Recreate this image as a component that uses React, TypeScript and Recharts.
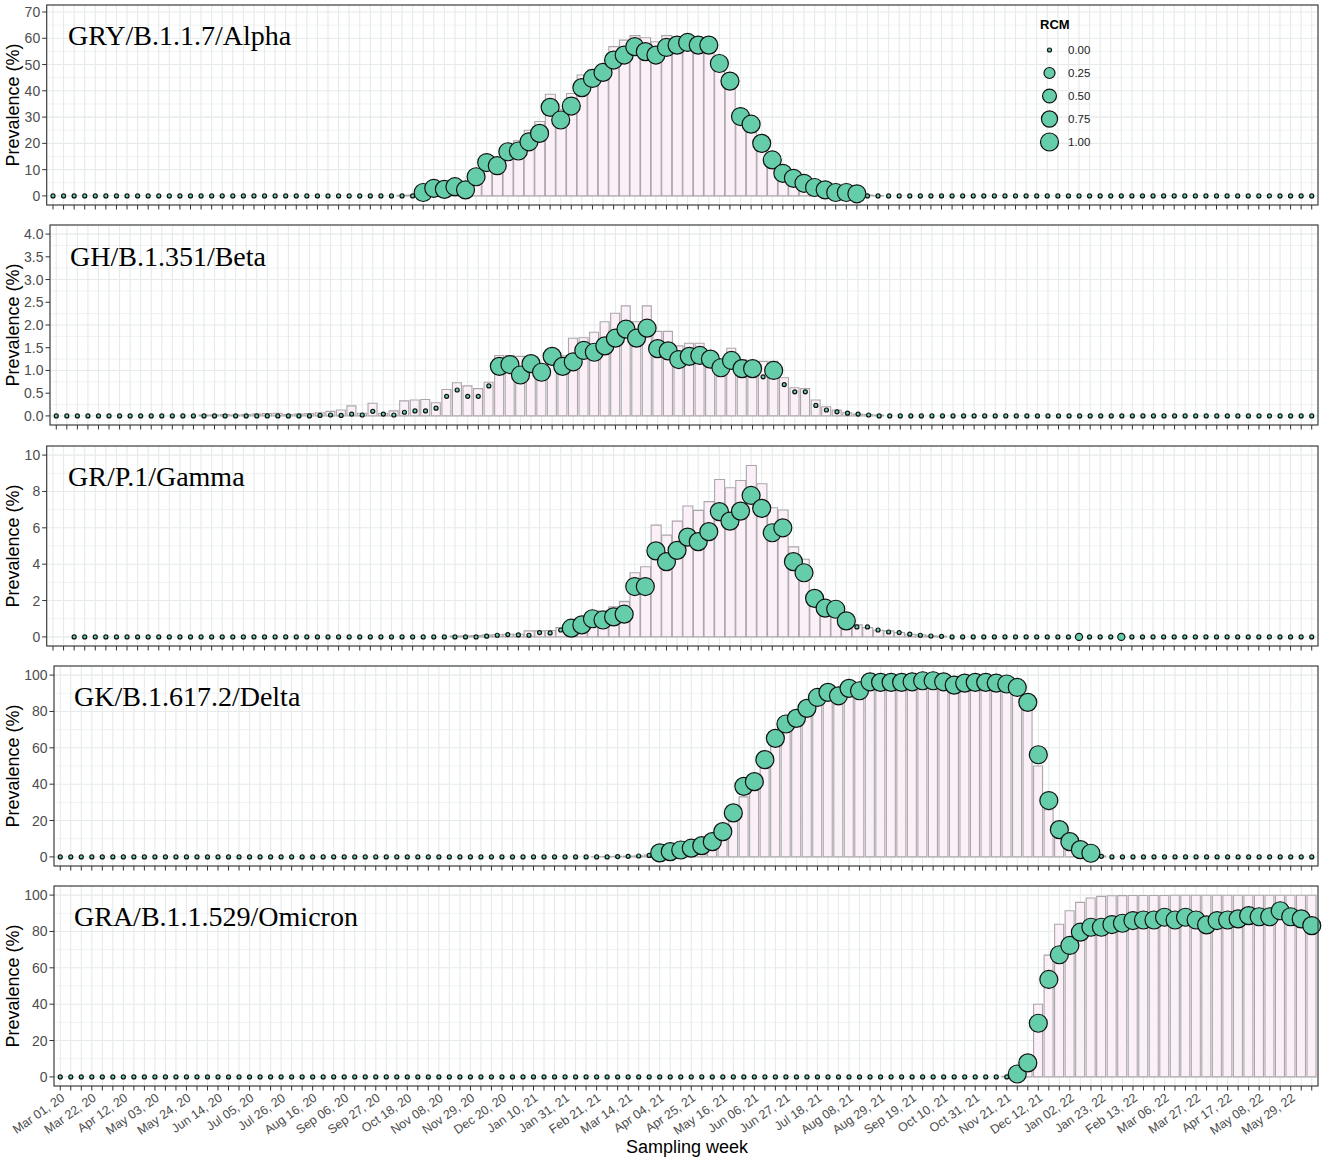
import React from 'react';
import { ComposedChart, Bar, Line, XAxis, YAxis, CartesianGrid } from 'recharts';

// weekly categories, one label every third week
const TICK_LABELS = [
  'Mar 01, 20', 'Mar 22, 20', 'Apr 12, 20', 'May 03, 20', 'May 24, 20', 'Jun 14, 20', 'Jul 05, 20', 'Jul 26, 20',
  'Aug 16, 20', 'Sep 06, 20', 'Sep 27, 20', 'Oct 18, 20', 'Nov 08, 20', 'Nov 29, 20', 'Dec 20, 20', 'Jan 10, 21',
  'Jan 31, 21', 'Feb 21, 21', 'Mar 14, 21', 'Apr 04, 21', 'Apr 25, 21', 'May 16, 21', 'Jun 06, 21', 'Jun 27, 21',
  'Jul 18, 21', 'Aug 08, 21', 'Aug 29, 21', 'Sep 19, 21', 'Oct 10, 21', 'Oct 31, 21', 'Nov 21, 21', 'Dec 12, 21',
  'Jan 02, 22', 'Jan 23, 22', 'Feb 13, 22', 'Mar 06, 22', 'Mar 27, 22', 'Apr 17, 22', 'May 08, 22', 'May 29, 22',
];
const N_WEEKS = 120;
const START = Date.UTC(2020, 2, 1);
const WEEKS = Array.from({ length: N_WEEKS }, (_, i) => new Date(START + i * 7 * 864e5).toISOString().slice(0, 10));

// ---- Alpha ----
const ALPHA_BAR = [
  0, 0, 0, 0, 0, 0, 0, 0, 0, 0,
  0, 0, 0, 0, 0, 0, 0, 0, 0, 0,
  0, 0, 0, 0, 0, 0, 0, 0, 0, 0,
  0, 0, 0, 0.2, 0.3, 1.5, 3.0, 3.0, 4.0, 4.5,
  8.5, 13.5, 14.0, 17.5, 21.0, 25.0, 28.3, 38.7, 33.0, 39.0,
  46.0, 47.9, 49.8, 56.8, 59.3, 61.0, 60.2, 58.7, 61.0, 60.6,
  60.2, 59.3, 58.0, 51.0, 41.0, 31.0, 28.0, 21.0, 14.5, 9.5,
  7.0, 5.0, 3.5, 2.5, 1.6, 1.4, 0.9, 0.3, 0.1, 0,
  0, 0, 0, 0, 0, 0, 0, 0, 0, 0,
  0, 0, 0, 0, 0, 0, 0, 0, 0, 0,
  0, 0, 0, 0, 0, 0, 0, 0, 0, 0,
  0, 0, 0, 0, 0, 0, 0, 0, 0, 0,
];
const ALPHA_PTS = [
  0, 0, 0, 0, 0, 0, 0, 0, 0, 0,
  0, 0, 0, 0, 0, 0, 0, 0, 0, 0,
  0, 0, 0, 0, 0, 0, 0, 0, 0, 0,
  0, 0, 0, 0, 0, 1.3, 2.9, 2.5, 3.5, 2.3,
  7.3, 12.7, 11.5, 16.8, 17.1, 20.6, 23.8, 33.7, 28.9, 34.2,
  41.2, 44.7, 47.0, 51.7, 53.6, 56.8, 54.9, 53.6, 56.5, 57.4,
  58.4, 57.4, 57.4, 50.4, 43.7, 30.2, 27.3, 20.0, 13.7, 8.6,
  6.7, 4.8, 3.2, 2.3, 1.3, 1.3, 0.8, 0, 0, 0,
  0, 0, 0, 0, 0, 0, 0, 0, 0, 0,
  0, 0, 0, 0, 0, 0, 0, 0, 0, 0,
  0, 0, 0, 0, 0, 0, 0, 0, 0, 0,
  0, 0, 0, 0, 0, 0, 0, 0, 0, 0,
];
const ALPHA_RCM = [
  0, 0, 0, 0, 0, 0, 0, 0, 0, 0,
  0, 0, 0, 0, 0, 0, 0, 0, 0, 0,
  0, 0, 0, 0, 0, 0, 0, 0, 0, 0,
  0, 0, 0, 0, 0, 1, 1, 1, 1, 1,
  1, 1, 1, 1, 1, 1, 1, 1, 1, 1,
  1, 1, 1, 1, 1, 1, 1, 1, 1, 1,
  1, 1, 1, 1, 1, 1, 1, 1, 1, 1,
  1, 1, 1, 1, 1, 1, 1, 0, 0, 0,
  0, 0, 0, 0, 0, 0, 0, 0, 0, 0,
  0, 0, 0, 0, 0, 0, 0, 0, 0, 0,
  0, 0, 0, 0, 0, 0, 0, 0, 0, 0,
  0, 0, 0, 0, 0, 0, 0, 0, 0, 0,
];

// ---- Beta ----
const BETA_BAR = [
  0, 0, 0, 0, 0, 0, 0, 0, 0, 0,
  0, 0, 0, 0, 0.02, 0.02, 0.03, 0.02, 0.03, 0.04,
  0.05, 0.06, 0.03, 0.04, 0.05, 0.07, 0.10, 0.13, 0.22, 0.06,
  0.28, 0.06, 0.11, 0.33, 0.35, 0.36, 0.29, 0.58, 0.73, 0.66,
  0.60, 0.74, 1.33, 1.33, 1.31, 1.24, 1.10, 1.30, 1.32, 1.71,
  1.72, 1.84, 2.07, 2.26, 2.42, 2.07, 2.42, 1.86, 1.86, 1.54,
  1.60, 1.60, 1.42, 1.24, 1.49, 1.24, 1.20, 1.20, 1.20, 0.84,
  0.62, 0.60, 0.35, 0.20, 0.13, 0.07, 0.04, 0.03, 0.02, 0,
  0, 0, 0, 0, 0, 0, 0, 0, 0, 0,
  0, 0, 0, 0, 0, 0, 0, 0, 0, 0,
  0, 0, 0, 0, 0, 0, 0, 0, 0, 0,
  0, 0, 0, 0, 0, 0, 0, 0, 0, 0,
];
const BETA_PTS = [
  0, 0, 0, 0, 0, 0, 0, 0, 0, 0,
  0, 0, 0, 0, 0, 0, 0, 0, 0, 0,
  0, 0, 0, 0, 0, 0.01, 0.02, 0.01, 0.04, 0.02,
  0.10, 0.04, 0.02, 0.08, 0.11, 0.11, 0.17, 0.43, 0.57, 0.43,
  0.43, 0.66, 1.09, 1.13, 0.90, 1.15, 0.96, 1.31, 1.09, 1.19,
  1.44, 1.40, 1.54, 1.71, 1.91, 1.71, 1.93, 1.48, 1.43, 1.24,
  1.31, 1.33, 1.25, 1.06, 1.22, 1.04, 1.04, 0.86, 1.00, 0.69,
  0.53, 0.53, 0.23, 0.13, 0.09, 0.06, 0.04, 0.02, 0, 0,
  0, 0, 0, 0, 0, 0, 0, 0, 0, 0,
  0, 0, 0, 0, 0, 0, 0, 0, 0, 0,
  0, 0, 0, 0, 0, 0, 0, 0, 0, 0,
  0, 0, 0, 0, 0, 0, 0, 0, 0, 0,
];
const BETA_RCM = [
  0, 0, 0, 0, 0, 0, 0, 0, 0, 0,
  0, 0, 0, 0, 0, 0, 0, 0, 0, 0,
  0, 0, 0, 0, 0, 0, 0, 0, 0, 0,
  0, 0, 0, 0, 0, 0, 0, 0, 0, 0,
  0, 0, 1, 1, 1, 1, 1, 1, 1, 1,
  1, 1, 1, 1, 1, 1, 1, 1, 1, 1,
  1, 1, 1, 1, 1, 1, 1, 0, 1, 0,
  0, 0, 0, 0, 0, 0, 0, 0, 0, 0,
  0, 0, 0, 0, 0, 0, 0, 0, 0, 0,
  0, 0, 0, 0, 0, 0, 0, 0, 0, 0,
  0, 0, 0, 0, 0, 0, 0, 0, 0, 0,
  0, 0, 0, 0, 0, 0, 0, 0, 0, 0,
];

// ---- Gamma (first two weeks have no data) ----
const GAMMA_BAR = [
  null, null, 0, 0, 0, 0, 0, 0, 0, 0,
  0, 0, 0, 0, 0, 0, 0, 0, 0, 0,
  0, 0, 0, 0, 0, 0, 0, 0, 0, 0,
  0, 0, 0, 0, 0, 0, 0, 0, 0.05, 0.05,
  0.08, 0.10, 0.12, 0.15, 0.15, 0.33, 0.33, 0.35, 0.51, 0.55,
  0.79, 1.06, 1.43, 1.65, 1.94, 3.53, 3.86, 6.15, 5.60, 6.37,
  7.20, 6.96, 7.44, 8.66, 8.20, 8.60, 9.43, 8.42, 7.10, 6.98,
  4.95, 4.27, 2.53, 1.89, 1.43, 0.79, 0.66, 0.51, 0.37, 0.33,
  0.24, 0.15, 0.11, 0.06, 0.04, 0, 0, 0, 0, 0,
  0, 0, 0, 0, 0, 0, 0, 0, 0, 0,
  0, 0, 0, 0, 0, 0, 0, 0, 0, 0,
  0, 0, 0, 0, 0, 0, 0, 0, 0, 0,
];
const GAMMA_PTS = [
  null, null, 0, 0, 0, 0, 0, 0, 0, 0,
  0, 0, 0, 0, 0, 0, 0, 0, 0, 0,
  0, 0, 0, 0, 0, 0, 0, 0, 0, 0,
  0, 0, 0, 0, 0, 0, 0, 0, 0, 0,
  0, 0.04, 0.09, 0.13, 0.11, 0.09, 0.24, 0.22, 0.38, 0.48,
  0.66, 1.00, 0.93, 1.10, 1.25, 2.77, 2.77, 4.73, 4.14, 4.76,
  5.49, 5.24, 5.79, 6.89, 6.37, 6.92, 7.78, 7.07, 5.73, 6.00,
  4.14, 3.53, 2.12, 1.58, 1.52, 0.88, 0.55, 0.55, 0.38, 0.27,
  0.24, 0.15, 0.09, 0.05, 0.03, 0, 0, 0, 0, 0,
  0, 0, 0, 0, 0, 0, 0, 0, 0, 0,
  0, 0, 0, 0, 0, 0, 0, 0, 0, 0,
  0, 0, 0, 0, 0, 0, 0, 0, 0, 0,
];
const GAMMA_RCM = [
  0, 0, 0, 0, 0, 0, 0, 0, 0, 0,
  0, 0, 0, 0, 0, 0, 0, 0, 0, 0,
  0, 0, 0, 0, 0, 0, 0, 0, 0, 0,
  0, 0, 0, 0, 0, 0, 0, 0, 0, 0,
  0, 0, 0, 0, 0, 0, 0, 0, 0, 1,
  1, 1, 1, 1, 1, 1, 1, 1, 1, 1,
  1, 1, 1, 1, 1, 1, 1, 1, 1, 1,
  1, 1, 1, 1, 1, 1, 0, 0, 0, 0,
  0, 0, 0, 0, 0, 0, 0, 0, 0, 0,
  0, 0, 0, 0, 0, 0, 0, 0.05, 0, 0,
  0, 0.05, 0, 0, 0, 0, 0, 0, 0, 0,
  0, 0, 0, 0, 0, 0, 0, 0, 0, 0,
];

// ---- Delta ----
const DELTA_BAR = [
  0, 0, 0, 0, 0, 0, 0, 0, 0, 0,
  0, 0, 0, 0, 0, 0, 0, 0, 0, 0,
  0, 0, 0, 0, 0, 0, 0, 0, 0, 0,
  0, 0, 0, 0, 0, 0, 0, 0, 0, 0,
  0, 0, 0, 0, 0, 0, 0, 0, 0, 0,
  0, 0.1, 0.2, 0.3, 0.4, 0.6, 1.0, 2.5, 3.2, 4.2,
  5.2, 6.8, 9.5, 15.0, 22.0, 33.0, 44.0, 56.0, 68.0, 74.0,
  78.0, 84.0, 88.0, 91.0, 90.0, 93.0, 93.0, 95.5, 96.0, 96.0,
  96.0, 96.0, 96.5, 96.5, 96.0, 95.0, 95.5, 95.5, 95.5, 95.0,
  94.5, 92.5, 86.0, 50.0, 26.0, 12.0, 6.0, 3.0, 1.5, 0.5,
  0, 0, 0, 0, 0, 0, 0, 0, 0, 0,
  0, 0, 0, 0, 0, 0, 0, 0, 0, 0,
];
const DELTA_PTS = [
  0, 0, 0, 0, 0, 0, 0, 0, 0, 0,
  0, 0, 0, 0, 0, 0, 0, 0, 0, 0,
  0, 0, 0, 0, 0, 0, 0, 0, 0, 0,
  0, 0, 0, 0, 0, 0, 0, 0, 0, 0,
  0, 0, 0, 0, 0, 0, 0, 0, 0, 0,
  0, 0, 0, 0.2, 0.3, 0.5, 0.8, 2.2, 2.9, 3.8,
  4.8, 6.2, 8.4, 13.9, 24.2, 38.8, 41.4, 53.5, 65.2, 73.1,
  76.2, 81.7, 87.7, 90.5, 88.6, 92.7, 91.4, 96.3, 96.0, 96.0,
  96.0, 96.3, 96.9, 96.9, 96.3, 94.5, 95.6, 96.0, 96.0, 95.6,
  95.1, 93.2, 85.0, 56.2, 31.0, 15.0, 8.4, 4.0, 2.0, 0.3,
  0, 0, 0, 0, 0, 0, 0, 0, 0, 0,
  0, 0, 0, 0, 0, 0, 0, 0, 0, 0,
];
const DELTA_RCM = [
  0, 0, 0, 0, 0, 0, 0, 0, 0, 0,
  0, 0, 0, 0, 0, 0, 0, 0, 0, 0,
  0, 0, 0, 0, 0, 0, 0, 0, 0, 0,
  0, 0, 0, 0, 0, 0, 0, 0, 0, 0,
  0, 0, 0, 0, 0, 0, 0, 0, 0, 0,
  0, 0, 0, 0, 0, 0, 0, 1, 1, 1,
  1, 1, 1, 1, 1, 1, 1, 1, 1, 1,
  1, 1, 1, 1, 1, 1, 1, 1, 1, 1,
  1, 1, 1, 1, 1, 1, 1, 1, 1, 1,
  1, 1, 1, 1, 1, 1, 1, 1, 1, 0,
  0, 0, 0, 0, 0, 0, 0, 0, 0, 0,
  0, 0, 0, 0, 0, 0, 0, 0, 0, 0,
];

// ---- Omicron ----
const OMICRON_BAR = [
  0, 0, 0, 0, 0, 0, 0, 0, 0, 0,
  0, 0, 0, 0, 0, 0, 0, 0, 0, 0,
  0, 0, 0, 0, 0, 0, 0, 0, 0, 0,
  0, 0, 0, 0, 0, 0, 0, 0, 0, 0,
  0, 0, 0, 0, 0, 0, 0, 0, 0, 0,
  0, 0, 0, 0, 0, 0, 0, 0, 0, 0,
  0, 0, 0, 0, 0, 0, 0, 0, 0, 0,
  0, 0, 0, 0, 0, 0, 0, 0, 0, 0,
  0, 0, 0, 0, 0, 0, 0, 0, 0, 0,
  0.3, 2.5, 9.0, 40.0, 67.0, 84.0, 91.4, 96.0, 98.4, 99.3,
  99.6, 99.7, 99.8, 99.8, 99.8, 99.8, 99.9, 99.9, 99.9, 99.9,
  99.9, 99.9, 99.9, 99.9, 99.9, 99.9, 99.9, 99.9, 99.9, 99.9,
];
const OMICRON_PTS = [
  0, 0, 0, 0, 0, 0, 0, 0, 0, 0,
  0, 0, 0, 0, 0, 0, 0, 0, 0, 0,
  0, 0, 0, 0, 0, 0, 0, 0, 0, 0,
  0, 0, 0, 0, 0, 0, 0, 0, 0, 0,
  0, 0, 0, 0, 0, 0, 0, 0, 0, 0,
  0, 0, 0, 0, 0, 0, 0, 0, 0, 0,
  0, 0, 0, 0, 0, 0, 0, 0, 0, 0,
  0, 0, 0, 0, 0, 0, 0, 0, 0, 0,
  0, 0, 0, 0, 0, 0, 0, 0, 0, 0,
  0, 1.6, 7.7, 29.5, 53.6, 67.2, 72.3, 79.6, 82.3, 82.3,
  83.8, 84.5, 86.0, 86.3, 86.3, 87.8, 86.3, 87.8, 86.3, 83.6,
  86.0, 86.3, 86.9, 88.7, 88.1, 88.1, 91.4, 88.1, 86.9, 83.2,
];
const OMICRON_RCM = [
  0, 0, 0, 0, 0, 0, 0, 0, 0, 0,
  0, 0, 0, 0, 0, 0, 0, 0, 0, 0,
  0, 0, 0, 0, 0, 0, 0, 0, 0, 0,
  0, 0, 0, 0, 0, 0, 0, 0, 0, 0,
  0, 0, 0, 0, 0, 0, 0, 0, 0, 0,
  0, 0, 0, 0, 0, 0, 0, 0, 0, 0,
  0, 0, 0, 0, 0, 0, 0, 0, 0, 0,
  0, 0, 0, 0, 0, 0, 0, 0, 0, 0,
  0, 0, 0, 0, 0, 0, 0, 0, 0, 0,
  0, 1, 1, 1, 1, 1, 1, 1, 1, 1,
  1, 1, 1, 1, 1, 1, 1, 1, 1, 1,
  1, 1, 1, 1, 1, 1, 1, 1, 1, 1,
];

const ALPHA_TICKS = [0, 10, 20, 30, 40, 50, 60, 70];
const BETA_TICKS = [0, 0.5, 1, 1.5, 2, 2.5, 3, 3.5, 4];
const GAMMA_TICKS = [0, 2, 4, 6, 8, 10];
const PCT_TICKS = [0, 20, 40, 60, 80, 100];
const RCM_KEYS = [0, 0.25, 0.5, 0.75, 1];

const W = 1325;
const RIGHT = 1318;
const PANEL_H = 200;
const M_TOP = 5;
const SANS = '"Liberation Sans", Arial, sans-serif';
const SERIF = '"Liberation Serif", "Times New Roman", serif';
const PT_FILL = '#66CDAA';
const BAR_FILL = '#fcf0f8';
const BAR_STROKE = '#aaa6aa';
const GRID = '#e6eaea';

const PANELS = [
  { name: 'GRY/B.1.1.7/Alpha', bars: ALPHA_BAR, pts: ALPHA_PTS, rcm: ALPHA_RCM, ticks: ALPHA_TICKS, domain: [-3.46, 72.66], top: 5, left: 46.7, tx: 68, ty: 45, fmt: (v: number) => String(v) },
  { name: 'GH/B.1.351/Beta', bars: BETA_BAR, pts: BETA_PTS, rcm: BETA_RCM, ticks: BETA_TICKS, domain: [-0.2, 4.2], top: 225, left: 50, tx: 70, ty: 266, fmt: (v: number) => v.toFixed(1) },
  { name: 'GR/P.1/Gamma', bars: GAMMA_BAR, pts: GAMMA_PTS, rcm: GAMMA_RCM, ticks: GAMMA_TICKS, domain: [-0.5, 10.5], top: 446, left: 46.7, tx: 68, ty: 486, fmt: (v: number) => String(v) },
  { name: 'GK/B.1.617.2/Delta', bars: DELTA_BAR, pts: DELTA_PTS, rcm: DELTA_RCM, ticks: PCT_TICKS, domain: [-5, 105], top: 666, left: 54, tx: 74, ty: 706, fmt: (v: number) => String(v) },
  { name: 'GRA/B.1.1.529/Omicron', bars: OMICRON_BAR, pts: OMICRON_PTS, rcm: OMICRON_RCM, ticks: PCT_TICKS, domain: [-5, 105], top: 886, left: 54, tx: 74, ty: 926, fmt: (v: number) => String(v) },
];

// size scale: area-proportional like ggplot's scale_size
const rcmRadius = (v: number) => 2 + 7 * Math.sqrt(Math.max(0, v || 0));

const renderDot = (props: any) => {
  const { cx, cy, payload, index } = props;
  if (cx == null || cy == null || payload == null || payload.pt == null) return <g key={`d-${index}`} />;
  return (
    <circle key={`d-${index}`} cx={cx} cy={cy} r={rcmRadius(payload.rcm)} fill={PT_FILL} stroke="#111" strokeWidth={1.2} />
  );
};

const XTick = (props: any) => {
  const { x, y, payload } = props;
  const i = WEEKS.indexOf(payload.value);
  if (i < 0 || i % 3 !== 0) return <g />;
  return (
    <text x={x} y={y} transform={`rotate(-35 ${x} ${y})`} textAnchor="end" dy="0.72em" fontSize={12.5} fill="#4d4d4d" fontFamily={SANS}>
      {TICK_LABELS[i / 3]}
    </text>
  );
};

const NoTick = () => <g />;

function Panel({ p, bottom }: { p: any; bottom: boolean }) {
  const data = WEEKS.map((w, i) => ({ week: w, bar: p.bars[i], pt: p.pts[i], rcm: p.rcm[i] }));
  const axisH = bottom ? 77 : 10;
  const minors = p.ticks.slice(1).map((t: number, k: number) => (t + p.ticks[k]) / 2);
  const [d0, d1] = p.domain;
  const minorGen = ({ yAxis, offset }: any) =>
    minors.map((v: number) =>
      yAxis && typeof yAxis.scale === 'function' ? yAxis.scale(v) : offset.top + ((d1 - v) / (d1 - d0)) * offset.height
    );
  return (
    <div style={{ position: 'absolute', left: 0, top: p.top - M_TOP }}>
      <ComposedChart
        width={W}
        height={M_TOP + PANEL_H + axisH}
        data={data}
        margin={{ top: M_TOP, right: W - RIGHT, bottom: 0, left: 0 }}
        barCategoryGap="5%"
      >
        <CartesianGrid stroke={GRID} strokeWidth={0.6} vertical={false} horizontalCoordinatesGenerator={minorGen} />
        <CartesianGrid stroke={GRID} strokeWidth={1.1} />
        <XAxis
          dataKey="week"
          interval={0}
          tickSize={4.5}
          tickLine={{ stroke: '#333', strokeWidth: 1 }}
          axisLine={false}
          tick={bottom ? <XTick /> : <NoTick />}
          height={axisH}
          padding={{ left: 1, right: 1 }}
        />
        <YAxis
          type="number"
          domain={p.domain}
          ticks={p.ticks}
          allowDataOverflow
          width={p.left}
          tickSize={4.5}
          tickMargin={2}
          tickLine={{ stroke: '#333', strokeWidth: 1 }}
          axisLine={false}
          tick={{ fontSize: 14, fill: '#4d4d4d', fontFamily: SANS }}
          tickFormatter={p.fmt}
        />
        <Bar dataKey="bar" fill={BAR_FILL} stroke={BAR_STROKE} strokeWidth={1.1} isAnimationActive={false} />
        <Line dataKey="pt" stroke="none" dot={renderDot} activeDot={false} isAnimationActive={false} />
      </ComposedChart>
    </div>
  );
}

export default function App() {
  return (
    <div style={{ position: 'absolute', left: 0, top: 0, width: W, height: 1163, background: '#fff', overflow: 'hidden' }}>
      {PANELS.map((p, k) => (
        <Panel key={p.name} p={p} bottom={k === PANELS.length - 1} />
      ))}
      <svg width={W} height={1163} style={{ position: 'absolute', left: 0, top: 0, pointerEvents: 'none' }}>
        {PANELS.map((p) => (
          <g key={p.name}>
            <rect x={p.left} y={p.top} width={RIGHT - p.left} height={PANEL_H} fill="none" stroke="#333" strokeWidth={1.1} />
            <text x={p.tx} y={p.ty} fontFamily={SERIF} fontSize={28} fill="#000">
              {p.name}
            </text>
            <text
              x={19}
              y={p.top + PANEL_H / 2}
              transform={`rotate(-90 19 ${p.top + PANEL_H / 2})`}
              textAnchor="middle"
              fontFamily={SANS}
              fontSize={18}
              fill="#000"
            >
              Prevalence (%)
            </text>
          </g>
        ))}
        <text x={687} y={1153} textAnchor="middle" fontFamily={SANS} fontSize={18} fill="#000">
          Sampling week
        </text>
        <g>
          <text x={1040} y={29} fontFamily={SANS} fontSize={13} fontWeight="bold" fill="#000">
            RCM
          </text>
          {RCM_KEYS.map((v, k) => (
            <g key={v}>
              <circle cx={1049.5} cy={50 + k * 23} r={rcmRadius(v)} fill={PT_FILL} stroke="#111" strokeWidth={1.2} />
              <text x={1068} y={50 + k * 23} dy="0.36em" fontFamily={SANS} fontSize={11.5} fill="#222">
                {v.toFixed(2)}
              </text>
            </g>
          ))}
        </g>
      </svg>
    </div>
  );
}
